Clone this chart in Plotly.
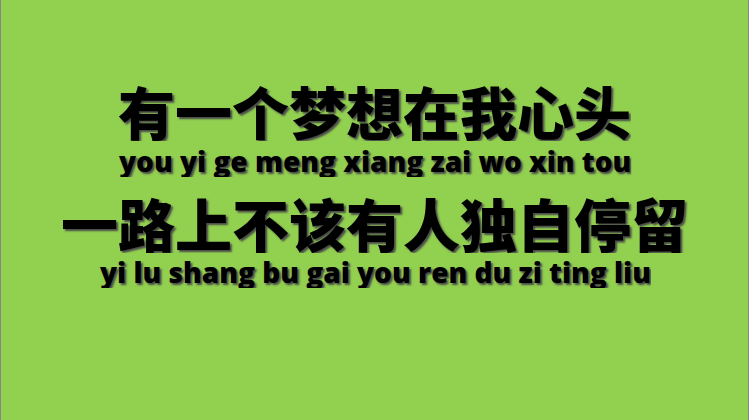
import plotly.graph_objects as go

# lyric lines: hanzi and pinyin, top to bottom
hanzi_lines = ["有一个梦想在我心头", "一路上不该有人独自停留"]
pinyin_lines = ["you yi ge meng xiang zai wo xin tou", "yi lu shang bu gai you ren du zi ting liu"]

# vertical centre of each line, in pixels from the top
hanzi_y = [110, 222]
pinyin_y = [161, 272]

W, H = 749, 420
bg = "#92d050"
shadow = "2px 2px 2px #4a4a4a"

fig = go.Figure()

annotations = []
for text, ypx in zip(hanzi_lines, hanzi_y):
    annotations.append(dict(
        x=0.5, y=1 - ypx / H, xref="paper", yref="paper", text=text,
        showarrow=False, xanchor="center", yanchor="middle", height=62,
        font=dict(family="Noto Sans CJK SC", size=57, weight=900, color="black", shadow=shadow),
    ))
for text, ypx in zip(pinyin_lines, pinyin_y):
    annotations.append(dict(
        x=0.5, y=1 - ypx / H, xref="paper", yref="paper", text=text,
        showarrow=False, xanchor="center", yanchor="middle", height=32,
        font=dict(family="Open Sans", size=28, weight=800, color="black", shadow=shadow),
    ))

fig.update_layout(
    width=W, height=H,
    margin=dict(l=0, r=0, t=0, b=0),
    paper_bgcolor=bg, plot_bgcolor=bg,
    xaxis=dict(visible=False, range=[0, 1]),
    yaxis=dict(visible=False, range=[0, 1]),
    annotations=annotations,
    shapes=[
        dict(type="line", xref="paper", yref="paper", x0=0, x1=0, y0=0, y1=1,
             line=dict(color="#888888", width=2)),
        dict(type="line", xref="paper", yref="paper", x0=1, x1=1, y0=0, y1=1,
             line=dict(color="#888888", width=2)),
    ],
    showlegend=False,
)

fig.write_html("out.html", config={"displayModeBar": False},
               post_script="document.body.style.margin='0';")
